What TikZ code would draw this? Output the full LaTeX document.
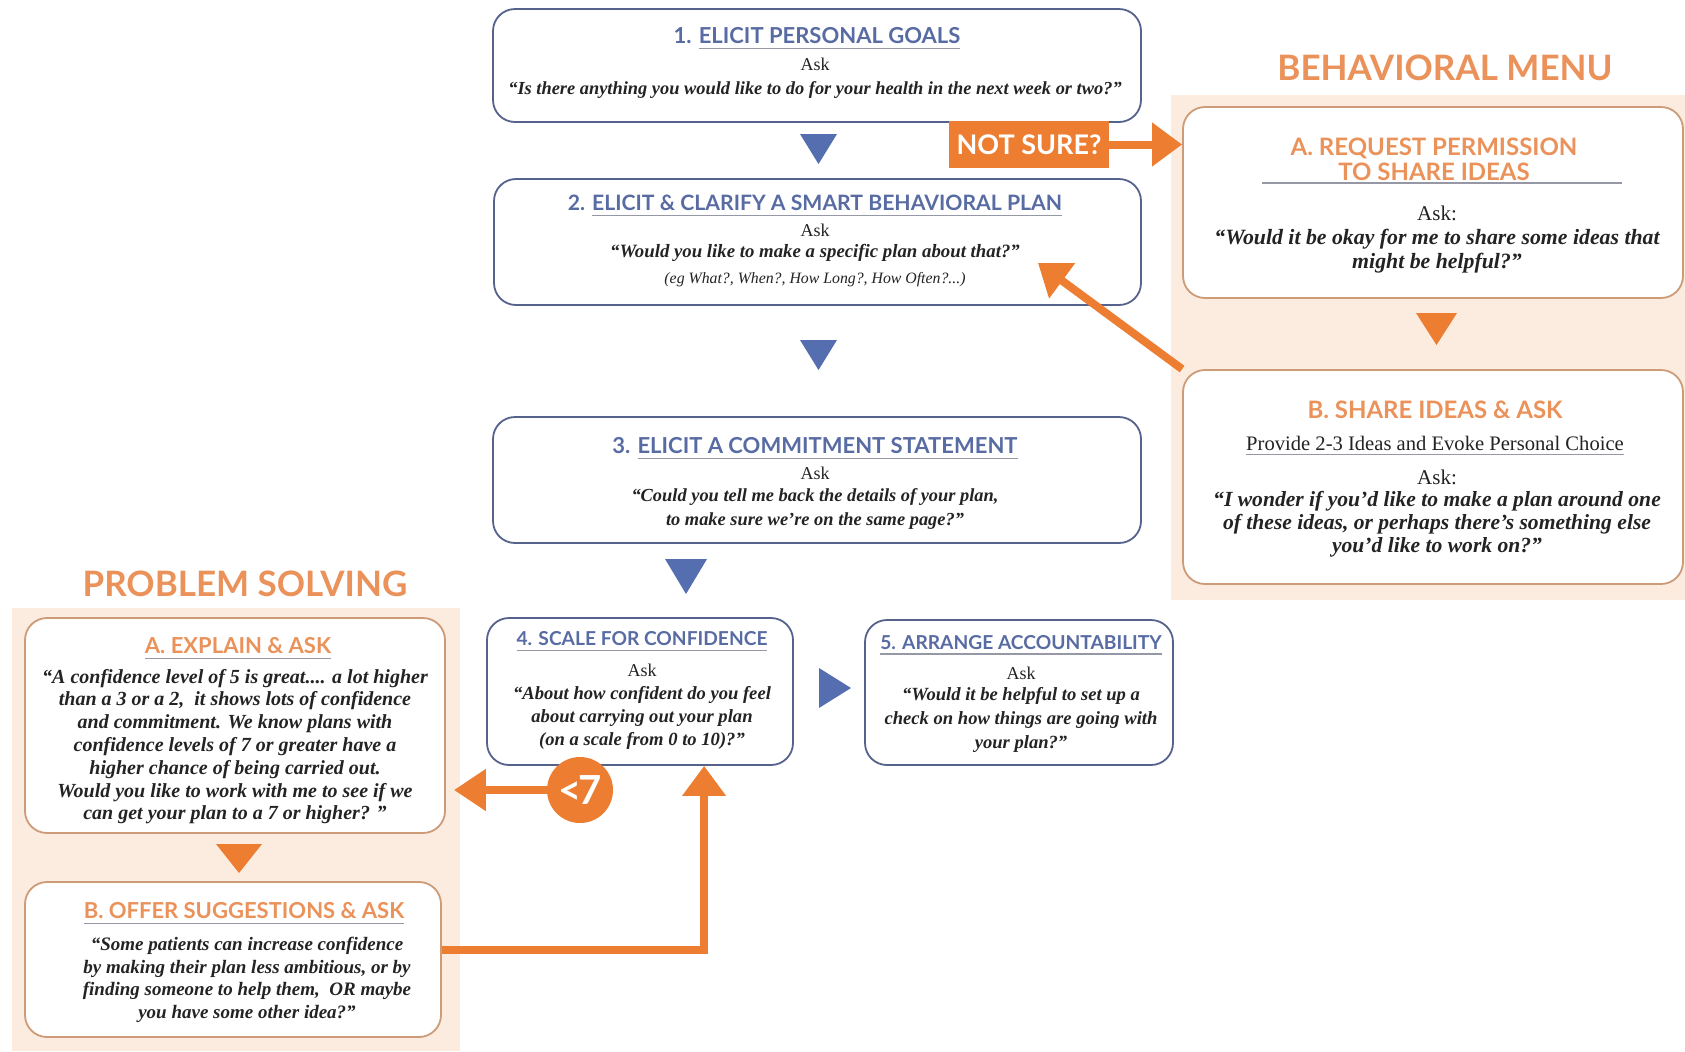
\documentclass[tikz,border=0pt]{standalone}
\usepackage{fontspec}
\setmainfont{Liberation Serif}
\newfontfamily\hfont{Lato}
\usetikzlibrary{arrows.meta,fit,calc}
\definecolor{hblue}{RGB}{88,108,163}
\definecolor{bblue}{RGB}{85,98,140}
\definecolor{tblue}{RGB}{84,110,176}
\definecolor{orng}{RGB}{236,125,49}
\definecolor{horng}{RGB}{234,146,90}
\definecolor{peach}{RGB}{252,236,224}
\definecolor{oborder}{RGB}{205,155,120}
\definecolor{ulgray}{RGB}{150,152,165}
\definecolor{txt}{RGB}{35,35,35}
\newcommand\myul[1]{\setbox0\hbox{#1}\rlap{\smash{\color{ulgray}\rule[-2.6pt]{\wd0}{0.6pt}}}\box0}
\newcommand\myqf[2]{\bfseries\itshape\fontsize{#1}{#2}\selectfont}
\newcommand\myrf[2]{\fontsize{#1}{#2}\selectfont}
\begin{document}
\begin{tikzpicture}[x=0.5pt,y=-0.5pt,
  bluebox/.style={draw=bblue, line width=0.9pt, rounded corners=11pt, inner sep=0pt, fill=white},
  orbox/.style={draw=oborder, line width=0.9pt, rounded corners=11pt, inner sep=0pt, fill=white},
  panel/.style={fill=peach, draw=none, inner sep=0pt},
  bhead/.style={font=\hfont\bfseries\fontsize{11}{13}\selectfont, text=hblue, inner sep=0pt},
  shead/.style={font=\hfont\bfseries\fontsize{9.6}{12}\selectfont, text=hblue, inner sep=0pt},
  ohead/.style={font=\hfont\bfseries\fontsize{12}{12.5}\selectfont, text=horng, inner sep=0pt, align=center},
  pohead/.style={ohead, font=\hfont\bfseries\fontsize{11}{12.5}\selectfont},
  bigtitle/.style={font=\hfont\bfseries\fontsize{17.5}{20}\selectfont, text=horng, inner sep=0pt},
  txtn/.style={text=txt, inner sep=0pt, align=center},
  tri/.style={fill=tblue, draw=none},
  otri/.style={fill=orng, draw=none},
  oarrow/.style={draw=orng, line width=4pt, -{Triangle[width=21pt,length=15pt]}},
  rulel/.style={draw=ulgray, line width=0.6pt}
]
\useasboundingbox (0,0) rectangle (1685,1051);
\fill[white] (0,0) rectangle (1685,1051);

% panels
\node[panel, fit={(1171,95)(1685,600)}] (bmpanel) {};
\node[panel, fit={(12,608)(460,1051)}] (pspanel) {};
\node[bigtitle] (bmtitle) at (1445,68) {BEHAVIORAL MENU};
\node[bigtitle] (pstitle) at (245,584) {PROBLEM SOLVING};

% main boxes
\node[bluebox, fit={(493,9)(1141,122)}] (b1) {};
\node[bhead] (t1) at (817,36) {1. \myul{ELICIT PERSONAL GOALS}};
\node[txtn, font=\myrf{9}{11}] (a1) at (815,64.5) {Ask};
\node[txtn, font=\myqf{9.2}{11}] (q1) at (815,90) {“Is there anything you would like to do for your health in the next week or two?”};

\node[bluebox, fit={(494,179)(1141,305)}] (b2) {};
\node[bhead, font=\hfont\bfseries\fontsize{10.6}{13}\selectfont] (t2) at (815,203) {2. \myul{ELICIT \& CLARIFY A SMART BEHAVIORAL PLAN}};
\node[txtn, font=\myrf{9}{11}] (a2) at (815,230) {Ask};
\node[txtn, font=\myqf{9.4}{11}] (q2) at (815,252.5) {“Would you like to make a specific plan about that?”};
\node[txtn, font=\itshape\myrf{7.9}{9}] (e2) at (815,279.5) {(eg What?, When?, How Long?, How Often?...)};

\node[bluebox, fit={(493,417)(1141,543)}] (b3) {};
\node[bhead] (t3) at (815,446) {3. \myul{ELICIT A COMMITMENT STATEMENT}};
\node[txtn, font=\myrf{9}{11}] (a3) at (815,473) {Ask};
\node[txtn, font=\myqf{9.2}{11.75}] (q3) at (815,509) {“Could you tell me back the details of your plan,\\ to make sure we’re on the same page?”};

\node[bluebox, fit={(487,618)(793,765)}] (b4) {};
\node[shead] (t4) at (642,639) {\myul{4. SCALE FOR CONFIDENCE}};
\node[txtn, font=\myrf{9}{11}] (a4) at (642,670) {Ask};
\node[txtn, font=\myqf{9.3}{11.65}] (q4) at (642,718) {“About how confident do you feel\\ about carrying out your plan\\ (on a scale from 0 to 10)?”};

\node[bluebox, fit={(865,620)(1173,765)}] (b5) {};
\node[shead] (t5) at (1021,642.5) {\myul{5. ARRANGE ACCOUNTABILITY}};
\node[txtn, font=\myrf{9}{11}] (a5) at (1021,673) {Ask};
\node[txtn, font=\myqf{9.3}{11.8}] (q5) at (1021,720) {“Would it be helpful to set up a\\ check on how things are going with\\ your plan?”};

% behavioral menu boxes
\node[orbox, fit={(1183,107)(1683,298)}] (bA) {};
\node[ohead] (tA) at (1434,159.5) {A. REQUEST PERMISSION\\ TO SHARE IDEAS};
\draw[rulel] (1262,183) -- (1622,183);
\node[txtn, font=\myrf{10.5}{12}] (aA) at (1437,213) {Ask:};
\node[txtn, font=\myqf{10.9}{12}] (qA) at (1437,251) {“Would it be okay for me to share some ideas that\\ might be helpful?”};

\node[orbox, fit={(1183,370)(1683,584)}] (bB) {};
\node[ohead] (tB) at (1435,410) {B. SHARE IDEAS \& ASK};
\node[txtn, font=\myrf{10.3}{12}] (pB) at (1435,443) {\myul{Provide 2-3 Ideas and Evoke Personal Choice}};
\node[txtn, font=\myrf{10.5}{12}] (aB) at (1437,477) {Ask:};
\node[txtn, font=\myqf{10.8}{11.4}] (qB) at (1437,524) {“I wonder if you’d like to make a plan around one\\ of these ideas, or perhaps there’s something else\\ you’d like to work on?”};

% problem solving boxes
\node[orbox, fit={(25,618)(445,833)}] (pA) {};
\node[pohead] (tpA) at (238,646) {\myul{A. EXPLAIN \& ASK}};
\node[txtn, font=\myqf{10}{11.4}] (qpA) at (235,746.5) {“A confidence level of 5 is great.... a lot higher\\ than a 3 or a 2,~ it shows lots of confidence\\ and commitment. We know plans with\\ confidence levels of 7 or greater have a\\ higher chance of being carried out.\\ Would you like to work with me to see if we\\ can get your plan to a 7 or higher? ”};

\node[orbox, fit={(25,882)(441,1037)}] (pB) {};
\node[pohead] (tpB) at (244,911) {\myul{B. OFFER SUGGESTIONS \& ASK}};
\node[txtn, font=\myqf{9.5}{11.3}] (qpB) at (247,980) {“Some patients can increase confidence\\ by making their plan less ambitious, or by\\ finding someone to help them,~ OR maybe\\ you have some other idea?”};

% triangles
\fill[tri] (800,134) -- (837,134) -- (818.5,164) -- cycle;
\fill[tri] (800,340) -- (837,340) -- (818.5,370) -- cycle;
\fill[tri] (665,559) -- (707,559) -- (686,594) -- cycle;
\fill[tri] (819,668) -- (819,708) -- (851,688) -- cycle;
\fill[otri] (1416,313) -- (1457,313) -- (1436.5,345) -- cycle;
\fill[otri] (216,844) -- (262,844) -- (239,873) -- cycle;

% not sure
\node[fill=orng, minimum width=80pt, minimum height=23.5pt, inner sep=0pt,
      font=\hfont\bfseries\fontsize{13.5}{15}\selectfont, text=white] (ns) at (1029,144.5) {NOT SURE?};
\draw[oarrow] (ns.east) -- (ns.east -| bA.west);

% diagonal arrow back to plan
\coordinate (d2) at (1038,263);
\draw[oarrow] (bB.north west) -- (d2);

% <7 circle and arrows
\node[circle, fill=orng, minimum size=33pt, inner sep=0pt,
      font=\hfont\bfseries\fontsize{20}{22}\selectfont, text=white] (lt7) at (580,790) {<\kern-1.5pt7};
\draw[oarrow, -{Triangle[width=20pt,length=16pt]}] (lt7.west) -- ([xshift=4pt]lt7.west -| pA.east);
\draw[oarrow] ($(pB.east)+(0,-9.5)$) -| ($(b4.south west)+(218,0)$);
\end{tikzpicture}
\end{document}
